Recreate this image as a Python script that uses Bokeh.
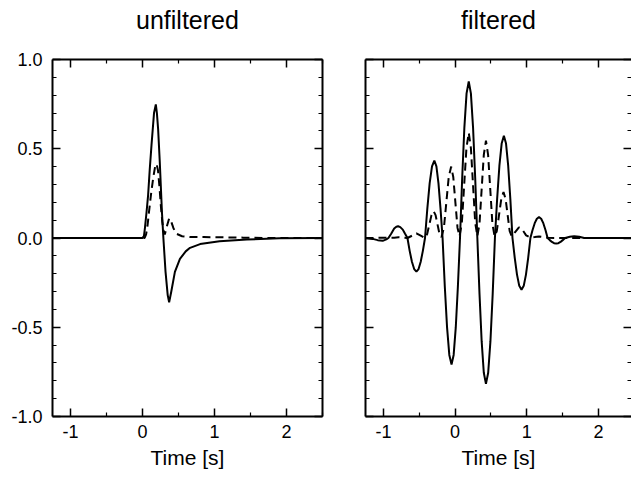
from bokeh.plotting import figure
from bokeh.layouts import row
from bokeh.models import Range1d, LinearAxis, FixedTicker, CustomJSTickFormatter
from bokeh.embed import file_html
from bokeh.resources import INLINE

# ---------------- data ----------------
panel_titles = ["unfiltered", "filtered"]
x_label = "Time [s]"
x_ticks = [-1, 0, 1, 2]
x_tick_labels = ["-1", "0", "1", "2"]
x_minor = [-1.5, -0.5, 0.5, 1.5, 2.5]
y_ticks = [-1.0, -0.5, 0.0, 0.5, 1.0]
y_tick_labels = ["-1.0", "-0.5", "0.0", "0.5", "1.0"]
y_minor = [-0.9, -0.8, -0.7, -0.6, -0.4, -0.3, -0.2, -0.1,
           0.1, 0.2, 0.3, 0.4, 0.6, 0.7, 0.8, 0.9]

# unfiltered, solid trace
unf_t = [-1.25, 0.0, 0.02, 0.032, 0.055, 0.078, 0.10, 0.125, 0.16, 0.185, 0.20,
         0.217, 0.24, 0.27, 0.29, 0.32, 0.35, 0.37, 0.40, 0.45, 0.52, 0.60,
         0.66, 0.80, 1.07, 1.45, 1.90, 2.50]
unf_v = [0.0, 0.0, 0.01, 0.05, 0.14, 0.24, 0.38, 0.52, 0.70, 0.748, 0.70,
         0.61, 0.425, 0.145, 0.0, -0.19, -0.32, -0.36, -0.30, -0.19, -0.117, -0.075,
         -0.055, -0.034, -0.018, -0.008, -0.002, 0.0]

# unfiltered, dashed trace
unf_env_t = [-1.25, 0.03, 0.05, 0.07, 0.09, 0.12, 0.15, 0.175, 0.195, 0.215, 0.235,
             0.255, 0.275, 0.295, 0.31, 0.335, 0.37, 0.40, 0.43, 0.47, 0.55, 0.66,
             0.85, 1.10, 1.40, 1.72, 2.50]
unf_env_v = [0.0, 0.0, 0.02, 0.07, 0.145, 0.25, 0.34, 0.40, 0.415, 0.38, 0.29,
             0.18, 0.09, 0.035, 0.02, 0.06, 0.11, 0.09, 0.055, 0.024, 0.01, 0.005,
             0.005, 0.004, 0.002, 0.0, 0.0]

# filtered, solid trace
fil_t = [-1.25, -1.15, -1.08, -1.01, -0.96, -0.93,
         -0.89, -0.85, -0.82, -0.795, -0.765, -0.73, -0.70, -0.665,
         -0.634, -0.6025, -0.571, -0.54, -0.51, -0.48, -0.45, -0.42,
         -0.3875, -0.355, -0.3225, -0.29, -0.261, -0.2325, -0.204, -0.175,
         -0.144, -0.1125, -0.081, -0.05, -0.0205, 0.009, 0.0385, 0.068,
         0.0985, 0.129, 0.1595, 0.19, 0.22, 0.25, 0.28, 0.31,
         0.34, 0.37, 0.40, 0.43, 0.461, 0.4925, 0.524, 0.555,
         0.586, 0.6175, 0.649, 0.68, 0.71, 0.74, 0.77, 0.80,
         0.8315, 0.863, 0.8945, 0.926, 0.957, 0.988, 1.019, 1.05,
         1.08, 1.11, 1.14, 1.17, 1.20, 1.23, 1.26, 1.29,
         1.32, 1.35, 1.38, 1.41, 1.44, 1.47, 1.50, 1.535,
         1.60, 1.66, 1.73, 1.80, 2.00, 2.50]
fil_v = [0.0, -0.005, -0.012, -0.016, -0.008, 0.0,
         0.025, 0.053, 0.063, 0.066, 0.061, 0.047, 0.025, 0.0,
         -0.072, -0.133, -0.174, -0.188, -0.174, -0.133, -0.072, 0.0,
         0.166, 0.307, 0.401, 0.434, 0.401, 0.307, 0.166, 0.0,
         -0.272, -0.501, -0.655, -0.709, -0.655, -0.501, -0.272, 0.0,
         0.336, 0.620, 0.810, 0.877, 0.810, 0.620, 0.336, 0.0,
         -0.313, -0.578, -0.755, -0.817, -0.755, -0.578, -0.313, 0.0,
         0.219, 0.405, 0.529, 0.573, 0.529, 0.405, 0.219, 0.0,
         -0.111, -0.205, -0.268, -0.290, -0.268, -0.205, -0.111, 0.0,
         0.045, 0.083, 0.108, 0.117, 0.108, 0.083, 0.045, 0.0,
         -0.012, -0.022, -0.029, -0.031, -0.029, -0.022, -0.012, 0.0,
         0.007, 0.010, 0.007, 0.0, 0.0, 0.0]

# filtered, dashed trace
fil_env_t = [-1.25, -0.85, -0.79, -0.70, -0.665, -0.60, -0.54, -0.48, -0.42,
             -0.39, -0.36, -0.33, -0.30, -0.2725, -0.245, -0.2175, -0.19,
             -0.156, -0.1225, -0.089, -0.055, -0.026, 0.0035, 0.033, 0.062,
             0.094, 0.126, 0.158, 0.19, 0.22, 0.25, 0.28, 0.31,
             0.34, 0.37, 0.40, 0.43, 0.46, 0.49, 0.52, 0.55,
             0.581, 0.6125, 0.644, 0.675, 0.704, 0.7325, 0.761, 0.79,
             0.84, 0.89, 0.94, 0.99, 1.05, 1.11, 1.17, 1.23, 1.29, 1.45, 2.50]
fil_env_v = [0.0, 0.002, 0.004, 0.001, 0.0, 0.013, 0.026, 0.013, 0.0,
             0.022, 0.075, 0.128, 0.150, 0.128, 0.075, 0.022, 0.005,
             0.058, 0.200, 0.342, 0.400, 0.342, 0.200, 0.058, 0.010,
             0.086, 0.295, 0.504, 0.590, 0.504, 0.295, 0.086, 0.010,
             0.080, 0.273, 0.466, 0.546, 0.466, 0.273, 0.080, 0.010,
             0.038, 0.129, 0.219, 0.257, 0.219, 0.129, 0.038, 0.010,
             0.035, 0.060, 0.045, 0.015, 0.002, 0.005, 0.009, 0.005, 0.001, 0.0, 0.0]

FONT = "Liberation Sans"


def style_axis(ax, ticks, minor, show_labels, overrides=None):
    ax.ticker = FixedTicker(ticks=ticks, minor_ticks=minor)
    ax.major_tick_in = 8
    ax.major_tick_out = 0
    ax.minor_tick_in = 4
    ax.minor_tick_out = 0
    ax.axis_line_width = 2
    ax.axis_line_color = "black"
    ax.major_tick_line_width = 1.5
    ax.minor_tick_line_width = 1.2
    if show_labels:
        ax.major_label_text_font = FONT
        ax.major_label_text_font_size = "18px"
        ax.major_label_text_color = "black"
        if overrides:
            ax.major_label_overrides = overrides
    else:
        ax.formatter = CustomJSTickFormatter(code="return ''")
        ax.major_label_text_font_size = "0px"
        ax.major_label_standoff = 0


def make_panel(title, ts, vs, te, ve, show_ylabels, frame_w, xmax, bl, br):
    p = figure(frame_width=frame_w, frame_height=357,
               x_range=Range1d(-1.25, xmax), y_range=Range1d(-1.0, 1.0),
               x_axis_type=None, y_axis_type=None,
               output_backend="svg", toolbar_location=None,
               min_border_left=bl, min_border_right=br,
               min_border_top=59, min_border_bottom=67)
    p.outline_line_color = None
    p.background_fill_color = "white"
    p.border_fill_color = "white"

    bottom = LinearAxis()
    style_axis(bottom, x_ticks, x_minor, True, dict(zip(x_ticks, x_tick_labels)))
    bottom.major_label_standoff = 8
    bottom.axis_label = x_label
    bottom.axis_label_text_font = FONT
    bottom.axis_label_text_font_size = "21px"
    bottom.axis_label_text_font_style = "normal"
    bottom.axis_label_text_color = "black"
    bottom.axis_label_standoff = 5
    p.add_layout(bottom, "below")

    # top axis: ticks only, carries the panel title as its label
    top = LinearAxis()
    style_axis(top, x_ticks, x_minor, False)
    top.axis_label = title
    top.axis_label_text_font = FONT
    top.axis_label_text_font_size = "25px"
    top.axis_label_text_font_style = "normal"
    top.axis_label_text_color = "black"
    top.axis_label_standoff = 26
    p.add_layout(top, "above")

    left = LinearAxis()
    style_axis(left, y_ticks, y_minor, show_ylabels,
               dict(zip(y_ticks, y_tick_labels)))
    if show_ylabels:
        left.major_label_standoff = 10
    p.add_layout(left, "left")

    right = LinearAxis()
    style_axis(right, y_ticks, y_minor, False)
    if not show_ylabels:
        right.axis_line_color = None
    p.add_layout(right, "right")

    p.line(ts, vs, line_color="black", line_width=2)
    p.line(te, ve, line_color="black", line_width=2, line_dash="8 5")
    return p


p1 = make_panel(panel_titles[0], unf_t, unf_v, unf_env_t, unf_env_v,
                True, 270, 2.5, 52, 21)
p2 = make_panel(panel_titles[1], fil_t, fil_v, fil_env_t, fil_env_v,
                False, 266, -1.25 + 266 / 71.7, 22, 0)

layout = row(p1, p2)
open("out.html", "w").write(file_html(layout, INLINE))
